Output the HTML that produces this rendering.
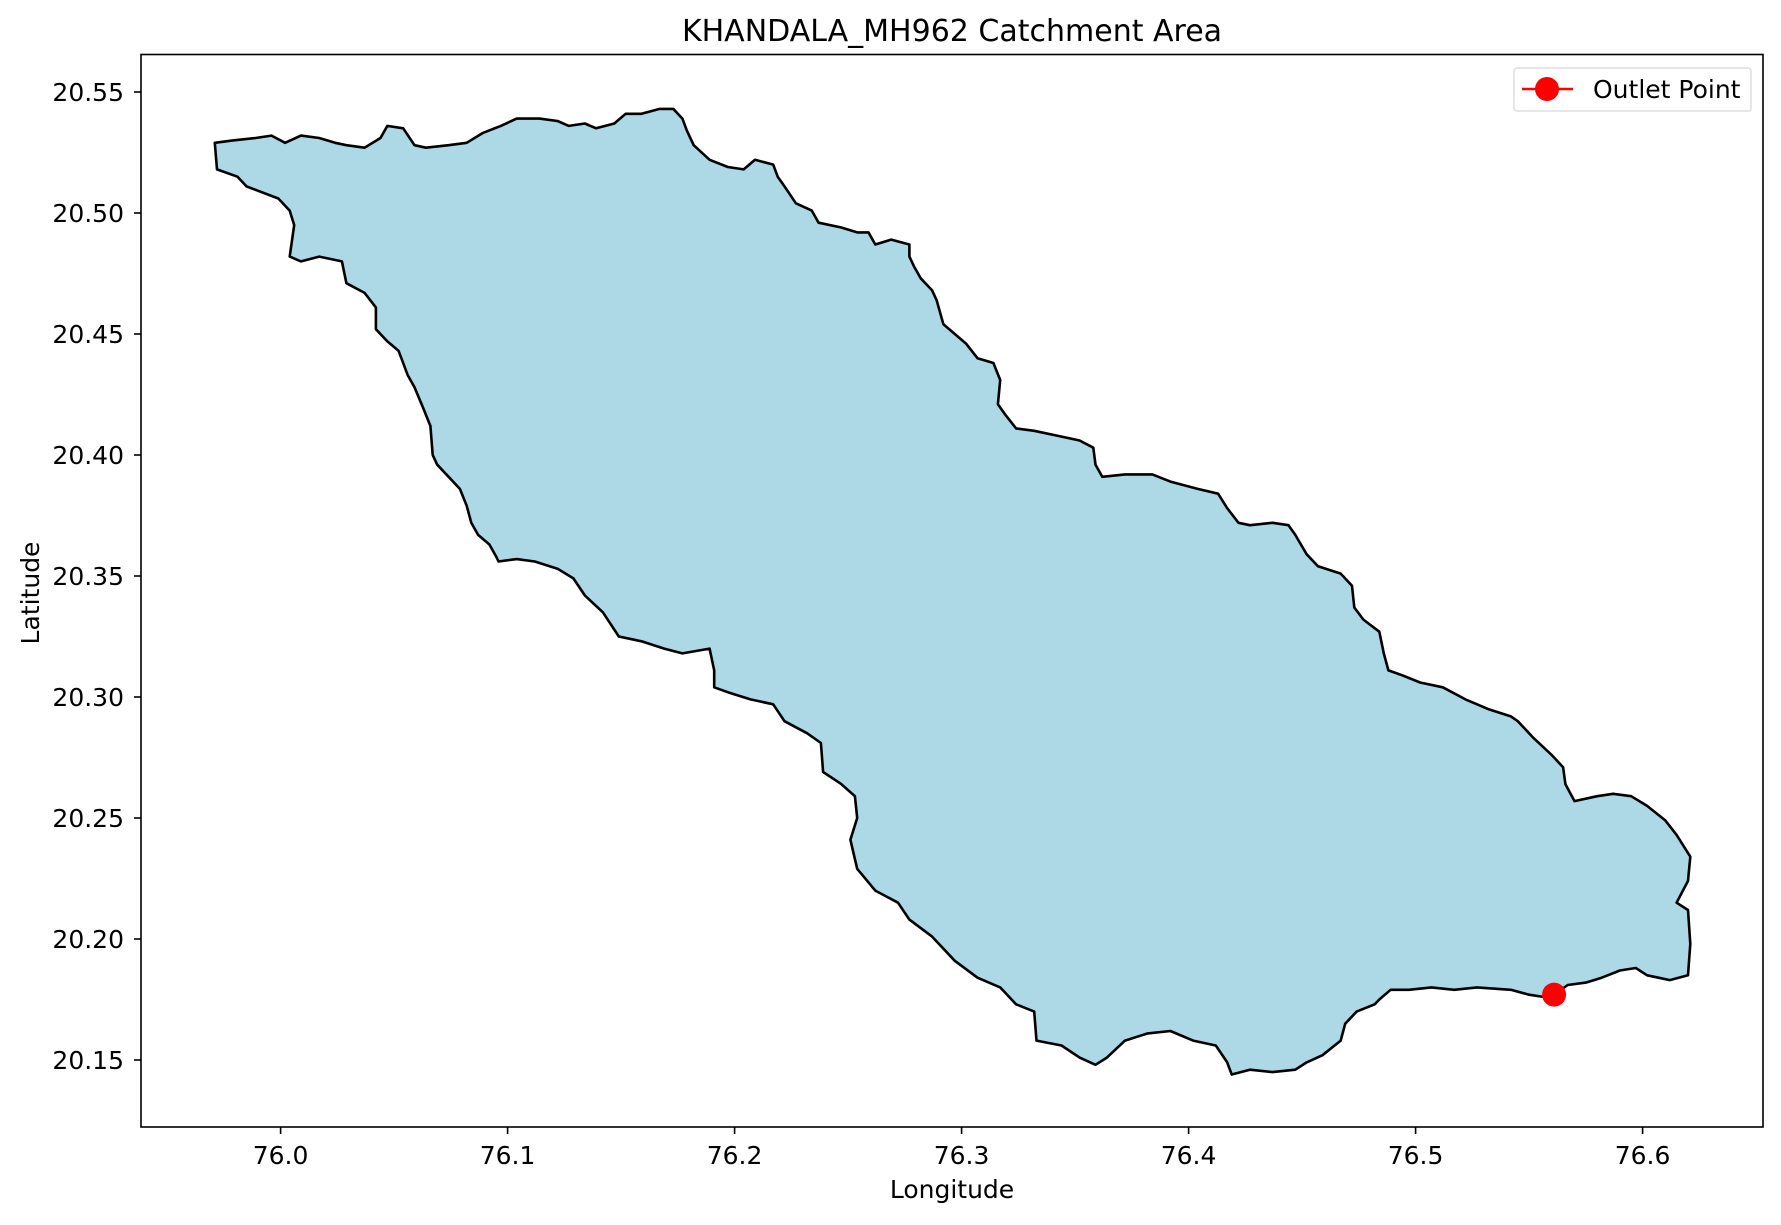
<!DOCTYPE html>
<html><head><meta charset="utf-8"><style>
body{margin:0;background:#fff}
svg text{font-family:"DejaVu Sans","Liberation Sans",sans-serif;fill:#000}
</style></head><body>
<svg id="chart" width="1781" height="1220" viewBox="0 0 1781 1220" xmlns="http://www.w3.org/2000/svg">
<text x="952" y="41" font-size="30" text-anchor="middle">KHANDALA_MH962 Catchment Area</text>
<g id="plot"></g>
<rect x="141" y="54.5" width="1622" height="1072.5" fill="none" stroke="#000" stroke-width="1.6"/>
<g id="xt"></g><g id="yt"></g>
<text x="952" y="1198" font-size="25" text-anchor="middle">Longitude</text>
<text transform="translate(39,593) rotate(-90)" font-size="25" text-anchor="middle">Latitude</text>
<g>
<rect x="1514" y="68" width="237" height="43" rx="3" fill="#fff" fill-opacity="0.8" stroke="#ddd" stroke-width="1.5"/>
<line x1="1522" y1="89" x2="1573" y2="89" stroke="red" stroke-width="2.5"/>
<circle cx="1547" cy="89" r="12" fill="red"/>
<text x="1593" y="98" font-size="25">Outlet Point</text>
</g>
</svg>
<script>
const lons=[75.971,75.972,75.981,75.985,75.999,76.004,76.006,76.004,76.009,76.017,76.027,76.029,76.037,76.042,76.042,76.047,76.052,76.056,76.059,76.063,76.066,76.067,76.069,76.074,76.079,76.082,76.084,76.087,76.092,76.095,76.096,76.104,76.112,76.122,76.129,76.134,76.142,76.149,76.159,76.169,76.177,76.189,76.191,76.191,76.197,76.207,76.217,76.222,76.232,76.238,76.239,76.247,76.253,76.254,76.251,76.254,76.262,76.272,76.277,76.287,76.297,76.307,76.317,76.324,76.332,76.333,76.344,76.352,76.359,76.364,76.372,76.382,76.392,76.402,76.412,76.417,76.419,76.427,76.437,76.447,76.452,76.459,76.467,76.469,76.474,76.482,76.484,76.489,76.497,76.507,76.517,76.527,76.542,76.550,76.557,76.561,76.567,76.575,76.582,76.590,76.597,76.602,76.607,76.612,76.620,76.621,76.620,76.615,76.620,76.621,76.615,76.610,76.602,76.595,76.587,76.580,76.570,76.566,76.565,76.560,76.552,76.545,76.542,76.532,76.522,76.512,76.502,76.494,76.488,76.486,76.484,76.477,76.473,76.472,76.467,76.457,76.452,76.447,76.444,76.437,76.427,76.422,76.417,76.413,76.404,76.392,76.384,76.372,76.362,76.359,76.358,76.352,76.342,76.332,76.324,76.319,76.316,76.317,76.314,76.307,76.302,76.297,76.292,76.289,76.287,76.282,76.279,76.277,76.277,76.269,76.262,76.259,76.254,76.247,76.237,76.234,76.227,76.222,76.219,76.217,76.209,76.204,76.197,76.189,76.182,76.179,76.177,76.173,76.167,76.159,76.152,76.147,76.139,76.134,76.127,76.122,76.114,76.104,76.097,76.089,76.082,76.074,76.064,76.059,76.054,76.047,76.044,76.037,76.029,76.024,76.017,76.009,76.002,75.996,75.989,75.979];
const lats=[20.529,20.518,20.515,20.511,20.506,20.501,20.495,20.482,20.480,20.482,20.480,20.471,20.467,20.461,20.452,20.447,20.443,20.433,20.428,20.419,20.412,20.400,20.396,20.391,20.386,20.379,20.372,20.367,20.363,20.358,20.356,20.357,20.356,20.353,20.349,20.342,20.335,20.325,20.323,20.320,20.318,20.320,20.311,20.304,20.302,20.299,20.297,20.290,20.285,20.281,20.269,20.264,20.259,20.250,20.241,20.229,20.220,20.215,20.208,20.201,20.191,20.184,20.180,20.173,20.170,20.158,20.156,20.151,20.148,20.151,20.158,20.161,20.162,20.158,20.156,20.149,20.144,20.146,20.145,20.146,20.149,20.152,20.158,20.165,20.170,20.173,20.175,20.179,20.179,20.180,20.179,20.180,20.179,20.177,20.176,20.177,20.181,20.182,20.184,20.187,20.188,20.185,20.184,20.183,20.185,20.198,20.212,20.215,20.224,20.234,20.243,20.249,20.255,20.259,20.260,20.259,20.257,20.264,20.271,20.276,20.283,20.290,20.292,20.295,20.299,20.304,20.306,20.309,20.311,20.318,20.327,20.332,20.337,20.346,20.351,20.354,20.359,20.367,20.371,20.372,20.371,20.372,20.378,20.384,20.386,20.389,20.392,20.392,20.391,20.396,20.403,20.406,20.408,20.410,20.411,20.417,20.421,20.431,20.438,20.440,20.446,20.450,20.454,20.464,20.468,20.473,20.478,20.482,20.487,20.489,20.487,20.492,20.492,20.494,20.496,20.501,20.504,20.511,20.515,20.520,20.522,20.518,20.519,20.522,20.528,20.534,20.539,20.543,20.543,20.541,20.541,20.537,20.535,20.537,20.536,20.538,20.539,20.539,20.536,20.533,20.529,20.528,20.527,20.528,20.535,20.536,20.531,20.527,20.528,20.529,20.531,20.532,20.529,20.532,20.531,20.530];
const outletLon=[76.561];
const outletLat=[20.177];
const xTicks=[76.0,76.1,76.2,76.3,76.4,76.5,76.6];
const xTickLabels=["76.0","76.1","76.2","76.3","76.4","76.5","76.6"];
const yTicks=[20.15,20.20,20.25,20.30,20.35,20.40,20.45,20.50,20.55];
const yTickLabels=["20.15","20.20","20.25","20.30","20.35","20.40","20.45","20.50","20.55"];
const NS='http://www.w3.org/2000/svg';
function X(v){return 280.6+(v-76)*2270;}
function Y(v){return 92+(20.55-v)*2420;}
function mk(t,a,p){const e=document.createElementNS(NS,t);for(const k in a)e.setAttribute(k,a[k]);p.appendChild(e);return e;}
const plot=document.getElementById('plot');
let d='';
for(let i=0;i<lons.length;i++)d+=(i?'L':'M')+X(lons[i]).toFixed(1)+' '+Y(lats[i]).toFixed(1);
const poly=mk('path',{d:d+'Z',fill:'#add8e6',stroke:'#000','stroke-width':2.6,'stroke-linejoin':'round'},plot);


for(let i=0;i<outletLon.length;i++){
const c=mk('circle',{cx:X(outletLon[i]),cy:Y(outletLat[i]),r:12,fill:'red'},plot);


}
const xt=document.getElementById('xt');
xTicks.forEach((v,i)=>{
const l=mk('line',{x1:X(v),x2:X(v),y1:1127,y2:1134,stroke:'#000','stroke-width':1.6},xt);


const t=mk('text',{x:X(v),y:1164,'font-size':25,'text-anchor':'middle'},xt);
t.textContent=xTickLabels[i];


});
const yt=document.getElementById('yt');
yTicks.forEach((v,i)=>{
const l=mk('line',{x1:134,x2:141,y1:Y(v),y2:Y(v),stroke:'#000','stroke-width':1.6},yt);


const t=mk('text',{x:124,y:Y(v)+9,'font-size':25,'text-anchor':'end'},yt);
t.textContent=yTickLabels[i];


});
</script>
</body></html>
